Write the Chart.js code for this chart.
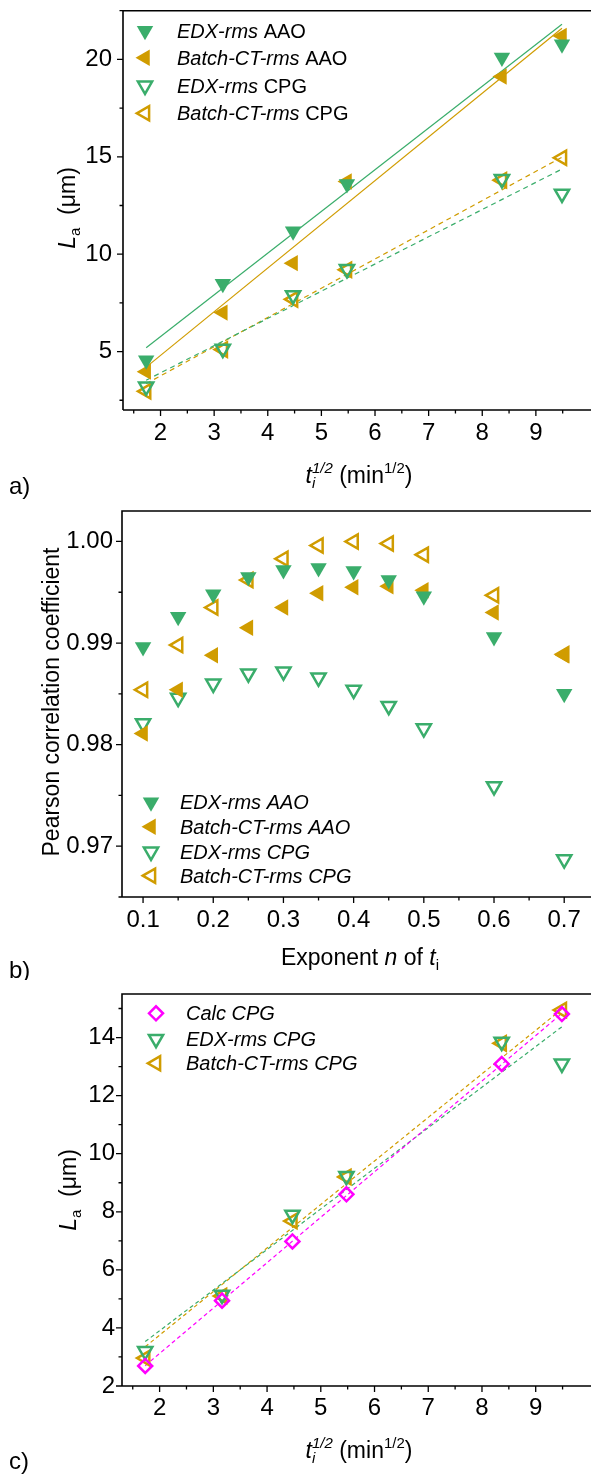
<!DOCTYPE html>
<html>
<head>
<meta charset="utf-8">
<script src="https://cdn.jsdelivr.net/npm/chart.js@4.4.1/dist/chart.umd.min.js"></script>
<style>
  html, body { margin: 0; padding: 0; background: #fff; overflow: hidden; width: 591px; height: 1474px; }
  canvas { position: absolute; left: 0; }
</style>
</head>
<body>
<canvas id="chartA" width="627" height="500" style="top:0px"></canvas>
<canvas id="chartB" width="610" height="480" style="top:500px"></canvas>
<canvas id="chartC" width="627" height="494" style="top:980px"></canvas>
<script>
// --- data ---
const tSqrt = [1.732, 3.162, 4.472, 5.477, 8.367, 9.487];   // t_i^(1/2)
const edxAAO = [4.56, 8.48, 11.18, 13.6, 20.1, 20.78];
const batchAAO = [3.97, 7.0, 9.54, 13.73, 19.12, 21.2];
const edxCPG = [3.2, 5.14, 7.89, 9.23, 13.85, 13.1];
const batchCPG = [2.96, 5.1, 7.68, 9.2, 13.8, 14.95];
const calcCPG = [2.69, 4.94, 6.98, 8.6, 13.09, 14.81];

// linear fit lines: value at first and last t
const fitEdxAAO = [5.2, 21.8];
const fitBatchAAO = [4.2, 21.6];
const fitEdxCPG = [3.53, 14.37];
const fitBatchCPG = [3.35, 14.98];
const fitCalcCPG = [2.7, 14.83];

const exponents = [0.1, 0.15, 0.2, 0.25, 0.3, 0.35, 0.4, 0.45, 0.5, 0.6, 0.7];
const rEdxAAO = [0.9896, 0.9926, 0.9948, 0.9965, 0.9972, 0.9974, 0.9971, 0.9962, 0.9946, 0.9906, 0.9850];
const rBatchAAO = [0.9811, 0.9854, 0.9888, 0.9915, 0.9935, 0.9949, 0.9955, 0.9956, 0.9952, 0.9930, 0.9888];
const rEdxCPG = [0.9821, 0.9846, 0.9860, 0.9870, 0.9872, 0.9866, 0.9854, 0.9838, 0.9816, 0.9759, 0.9687];
const rBatchCPG = [0.9854, 0.9898, 0.9935, 0.9962, 0.9983, 0.9996, 1.0000, 0.9998, 0.9987, 0.9947, 0.9889];

// tick values
const tMajor = [2, 3, 4, 5, 6, 7, 8, 9];
const tMinor = [1.5, 2.5, 3.5, 4.5, 5.5, 6.5, 7.5, 8.5, 9.5];
const laMajorA = [5, 10, 15, 20];
const laMinorA = [2.5, 7.5, 12.5, 17.5, 22.5];
const expMajor = [0.1, 0.2, 0.3, 0.4, 0.5, 0.6, 0.7];
const expMinor = [0.15, 0.25, 0.35, 0.45, 0.55, 0.65, 0.75];
const rMajor = [0.97, 0.98, 0.99, 1.00];
const rMinor = [0.965, 0.975, 0.985, 0.995];
const laMajorC = [2, 4, 6, 8, 10, 12, 14];
const laMinorC = [3, 5, 7, 9, 11, 13, 15];

const green = '#3AAD6B';
const gold = '#D09C00';
const magenta = '#FF00FF';
const FONT = "'Liberation Sans', Arial, sans-serif";
const TICK_SIZE = 24;
const TITLE_SIZE = 23;
const LEGEND_SIZE = 20;

const styles = {
  filledDown: { pointStyle: 'triangle', rotation: 180, radius: 9.5, fill: green, stroke: green, borderWidth: 0 },
  filledLeft: { pointStyle: 'triangle', rotation: -90, radius: 9.5, fill: gold, stroke: gold, borderWidth: 0 },
  openDown: { pointStyle: 'triangle', rotation: 180, radius: 8.2, fill: 'rgba(0,0,0,0)', stroke: green, borderWidth: 2.5 },
  openLeft: { pointStyle: 'triangle', rotation: -90, radius: 8.2, fill: 'rgba(0,0,0,0)', stroke: gold, borderWidth: 2.5 },
  openDiamond: { pointStyle: 'rectRot', rotation: 0, radius: 7, fill: 'rgba(0,0,0,0)', stroke: magenta, borderWidth: 2.5 }
};

function points(xs, ys) {
  return xs.map((x, i) => ({ x: x, y: ys[i] }));
}

function markerSet(label, xs, ys, st) {
  return {
    label: label,
    data: points(xs, ys),
    showLine: false,
    pointStyle: st.pointStyle,
    rotation: st.rotation,
    pointRadius: st.radius,
    pointBackgroundColor: st.fill,
    pointBorderColor: st.stroke,
    pointBorderWidth: st.borderWidth
  };
}

function fitSet(ends, color, dash) {
  return {
    label: 'fit',
    data: [{ x: tSqrt[0], y: ends[0] }, { x: tSqrt[tSqrt.length - 1], y: ends[1] }],
    showLine: true,
    borderColor: color,
    borderWidth: 1.2,
    borderDash: dash,
    pointRadius: 0,
    fill: false
  };
}

// text runs with italic / sub / superscript parts
function layoutRuns(ctx, runs) {
  let x = 0, prevStart = 0, prevEnd = 0;
  const placed = [];
  for (const r of runs) {
    ctx.font = (r.i ? 'italic ' : '') + r.s + 'px ' + FONT;
    const w = ctx.measureText(r.t).width;
    const start = r.stack ? prevStart : x;
    placed.push(Object.assign({}, r, { x: start }));
    const end = start + w;
    x = r.stack ? Math.max(prevEnd, end) : end;
    prevStart = start;
    prevEnd = end;
  }
  return { placed, width: x };
}

function drawRuns(ctx, runs, x, y, align) {
  const { placed, width } = layoutRuns(ctx, runs);
  const x0 = align === 'center' ? x - width / 2 : x;
  ctx.textBaseline = 'alphabetic';
  ctx.textAlign = 'left';
  ctx.fillStyle = '#000';
  for (const r of placed) {
    ctx.font = (r.i ? 'italic ' : '') + r.s + 'px ' + FONT;
    ctx.fillText(r.t, x0 + r.x, y + (r.dy || 0));
  }
}

function drawMarker(ctx, st, x, y) {
  ctx.save();
  ctx.fillStyle = st.fill;
  ctx.strokeStyle = st.stroke;
  ctx.lineWidth = st.borderWidth;
  Chart.helpers.drawPoint(ctx, { pointStyle: st.pointStyle, rotation: st.rotation, radius: st.radius, borderWidth: st.borderWidth }, x, y);
  ctx.restore();
}

const S = TITLE_SIZE, SS = 15;
const tTitle = [
  { t: 't', s: S, i: true },
  { t: 'i', s: SS, i: true, dy: 5 },
  { t: '1/2', s: SS, i: true, dy: -10, stack: true },
  { t: ' (min', s: S },
  { t: '1/2', s: SS, dy: -10 },
  { t: ')', s: S }
];
const laTitle = [
  { t: 'L', s: S, i: true },
  { t: 'a', s: SS, dy: 5 },
  { t: '  (\u03bcm)', s: S }
];
const expTitle = [
  { t: 'Exponent ', s: S },
  { t: 'n', s: S, i: true },
  { t: ' of ', s: S },
  { t: 't', s: S, i: true },
  { t: 'i', s: SS, dy: 5 }
];
const rTitle = [{ t: 'Pearson correlation coefficient', s: S }];

function decorPlugin(p) {
  return {
    id: 'decor',
    afterDraw(chart) {
      const { ctx, chartArea: a, scales: { x, y } } = chart;
      ctx.save();
      ctx.strokeStyle = '#000';
      ctx.lineWidth = 1.6;
      ctx.beginPath();
      ctx.moveTo(a.left, a.bottom);
      ctx.lineTo(a.left, a.top);
      ctx.lineTo(a.right, a.top);
      ctx.moveTo(a.left, a.bottom);
      ctx.lineTo(a.right, a.bottom);
      ctx.stroke();

      // ticks outward, major and minor
      ctx.lineWidth = 1.3;
      ctx.beginPath();
      const xt = (vals, len) => vals.forEach(v => {
        const px = x.getPixelForValue(v);
        if (px < a.left - 0.5 || px > a.right + 0.5) return;
        ctx.moveTo(px, a.bottom);
        ctx.lineTo(px, a.bottom + len);
      });
      const yt = (vals, len) => vals.forEach(v => {
        const py = y.getPixelForValue(v);
        if (py < a.top - 0.5 || py > a.bottom + 0.5) return;
        ctx.moveTo(a.left, py);
        ctx.lineTo(a.left - len, py);
      });
      xt(p.xMajor, 6); xt(p.xMinor, 3.5);
      yt(p.yMajor, 6); yt(p.yMinor, 3.5);
      ctx.stroke();

      // axis titles
      drawRuns(ctx, p.xTitle, p.xTitlePos[0], p.xTitlePos[1] + 8, 'center');
      ctx.save();
      ctx.translate(p.yTitlePos[0], p.yTitlePos[1]);
      ctx.rotate(-Math.PI / 2);
      drawRuns(ctx, p.yTitle, 0, 8, 'center');
      ctx.restore();

      // panel letter
      ctx.font = '24px ' + FONT;
      ctx.fillStyle = '#000';
      ctx.textBaseline = 'middle';
      ctx.textAlign = 'left';
      ctx.fillText(p.letter, p.letterPos[0], p.letterPos[1]);

      // legend
      p.legend.forEach((item, k) => {
        const ly = p.legendPos.rows[k];
        drawMarker(ctx, item.st, p.legendPos.mx, ly);
        drawRuns(ctx, item.runs, p.legendPos.tx, ly + 7, 'left');
      });
      ctx.restore();
    }
  };
}

function makeChart(id, p, datasets) {
  const el = document.getElementById(id);
  const tickFont = { family: FONT, size: TICK_SIZE };
  return new Chart(el.getContext('2d'), {
    type: 'scatter',
    data: { datasets: datasets },
    options: {
      responsive: false,
      animation: false,
      devicePixelRatio: 1,
      layout: { padding: { top: p.top, left: 0, right: 0, bottom: 0 } },
      plugins: { legend: { display: false }, tooltip: { enabled: false } },
      scales: {
        x: {
          type: 'linear', min: p.xMin, max: p.xMax,
          grid: { display: false, drawTicks: false },
          border: { display: false },
          ticks: { color: '#000', font: tickFont, padding: p.xPad, autoSkip: false, maxRotation: 0,
                   callback: v => v.toFixed(p.xDec) },
          afterBuildTicks: s => { s.ticks = p.xMajor.map(v => ({ value: v })); },
          afterFit: s => { s.height = el.height - p.bottom; s.paddingLeft = 0; s.paddingRight = 0; }
        },
        y: {
          type: 'linear', min: p.yMin, max: p.yMax,
          grid: { display: false, drawTicks: false },
          border: { display: false },
          ticks: { color: '#000', font: tickFont, padding: p.yPad, autoSkip: false,
                   callback: v => v.toFixed(p.yDec) },
          afterBuildTicks: s => { s.ticks = p.yMajor.map(v => ({ value: v })); },
          afterFit: s => { s.width = p.left; s.paddingTop = 0; s.paddingBottom = 0; }
        }
      }
    },
    plugins: [decorPlugin(p)]
  });
}

// a) L_a vs t^1/2
makeChart('chartA', {
  top: 7, bottom: 410, left: 123,
  xMin: 1.3, xMax: 10.5, yMin: 2, yMax: 22.5,
  xMajor: tMajor, xMinor: tMinor, yMajor: laMajorA, yMinor: laMinorA,
  xDec: 0, yDec: 0, xPad: 9, yPad: 11,
  xTitle: tTitle, xTitlePos: [359, 475],
  yTitle: laTitle, yTitlePos: [67, 208],
  letter: 'a)', letterPos: [9, 487],
  legendPos: { mx: 145, tx: 177, rows: [30.7, 57.7, 85.7, 113.3] },
  legend: [
    { st: styles.filledDown, runs: [{ t: 'EDX-rms', s: LEGEND_SIZE, i: true }, { t: ' AAO', s: LEGEND_SIZE }] },
    { st: styles.filledLeft, runs: [{ t: 'Batch-CT-rms', s: LEGEND_SIZE, i: true }, { t: ' AAO', s: LEGEND_SIZE }] },
    { st: styles.openDown, runs: [{ t: 'EDX-rms', s: LEGEND_SIZE, i: true }, { t: ' CPG', s: LEGEND_SIZE }] },
    { st: styles.openLeft, runs: [{ t: 'Batch-CT-rms', s: LEGEND_SIZE, i: true }, { t: ' CPG', s: LEGEND_SIZE }] }
  ]
}, [
  markerSet('EDX-rms AAO', tSqrt, edxAAO, styles.filledDown),
  markerSet('Batch-CT-rms AAO', tSqrt, batchAAO, styles.filledLeft),
  markerSet('EDX-rms CPG', tSqrt, edxCPG, styles.openDown),
  markerSet('Batch-CT-rms CPG', tSqrt, batchCPG, styles.openLeft),
  fitSet(fitEdxAAO, green, []),
  fitSet(fitBatchAAO, gold, []),
  fitSet(fitEdxCPG, green, [5, 4]),
  fitSet(fitBatchCPG, gold, [5, 4])
]);

// b) Pearson correlation vs exponent
makeChart('chartB', {
  top: 11, bottom: 397, left: 122,
  xMin: 0.07, xMax: 0.75, yMin: 0.965, yMax: 1.003,
  xMajor: expMajor, xMinor: expMinor, yMajor: rMajor, yMinor: rMinor,
  xDec: 1, yDec: 2, xPad: 9, yPad: 9,
  xTitle: expTitle, xTitlePos: [360, 457],
  yTitle: rTitle, yTitlePos: [51, 202],
  letter: 'b)', letterPos: [9, 471],
  legendPos: { mx: 151, tx: 180, rows: [302.3, 326.7, 351.7, 375.7] },
  legend: [
    { st: styles.filledDown, runs: [{ t: 'EDX-rms AAO', s: LEGEND_SIZE, i: true }] },
    { st: styles.filledLeft, runs: [{ t: 'Batch-CT-rms AAO', s: LEGEND_SIZE, i: true }] },
    { st: styles.openDown, runs: [{ t: 'EDX-rms CPG', s: LEGEND_SIZE, i: true }] },
    { st: styles.openLeft, runs: [{ t: 'Batch-CT-rms CPG', s: LEGEND_SIZE, i: true }] }
  ]
}, [
  markerSet('EDX-rms AAO', exponents, rEdxAAO, styles.filledDown),
  markerSet('Batch-CT-rms AAO', exponents, rBatchAAO, styles.filledLeft),
  markerSet('EDX-rms CPG', exponents, rEdxCPG, styles.openDown),
  markerSet('Batch-CT-rms CPG', exponents, rBatchCPG, styles.openLeft)
]);

// c) CPG comparison with calculation
makeChart('chartC', {
  top: 14, bottom: 406, left: 122,
  xMin: 1.3, xMax: 10.5, yMin: 2, yMax: 15.5,
  xMajor: tMajor, xMinor: tMinor, yMajor: laMajorC, yMinor: laMinorC,
  xDec: 0, yDec: 0, xPad: 8, yPad: 7,
  xTitle: tTitle, xTitlePos: [359, 470],
  yTitle: laTitle, yTitlePos: [68, 210],
  letter: 'c)', letterPos: [9, 482],
  legendPos: { mx: 156, tx: 186, rows: [33.3, 59, 83.3] },
  legend: [
    { st: styles.openDiamond, runs: [{ t: 'Calc CPG', s: LEGEND_SIZE, i: true }] },
    { st: styles.openDown, runs: [{ t: 'EDX-rms CPG', s: LEGEND_SIZE, i: true }] },
    { st: styles.openLeft, runs: [{ t: 'Batch-CT-rms CPG', s: LEGEND_SIZE, i: true }] }
  ]
}, [
  markerSet('Calc CPG', tSqrt, calcCPG, styles.openDiamond),
  markerSet('EDX-rms CPG', tSqrt, edxCPG, styles.openDown),
  markerSet('Batch-CT-rms CPG', tSqrt, batchCPG, styles.openLeft),
  fitSet(fitCalcCPG, magenta, [4, 3]),
  fitSet(fitEdxCPG, green, [4, 3]),
  fitSet(fitBatchCPG, gold, [4, 3])
]);
</script>
</body>
</html>
